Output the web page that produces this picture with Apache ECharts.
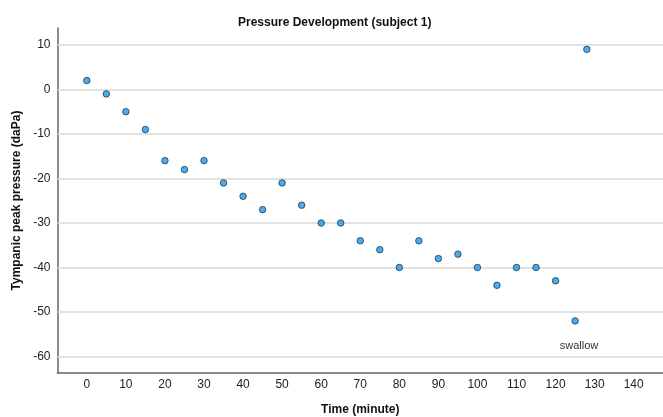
<!DOCTYPE html>
<html>
<head>
<meta charset="utf-8">
<script src="https://cdn.jsdelivr.net/npm/echarts@6/dist/echarts.min.js"></script>
<style>
  html, body { margin: 0; padding: 0; background: #ffffff; }
  #chart { width: 663px; height: 417px; }
</style>
</head>
<body>
<div id="chart"></div>
<script>
// time in minutes and tympanic peak pressure (daPa)
var times = [0, 5, 10, 15, 20, 25, 30, 35, 40, 45, 50, 55, 60, 65, 70, 75, 80, 85, 90, 95, 100, 105, 110, 115, 120, 125, 128];
var pressures = [2, -1, -5, -9, -16, -18, -16, -21, -24, -27, -21, -26, -30, -30, -34, -36, -40, -34, -38, -37, -40, -44, -40, -40, -43, -52, 9];
var xTicks = [0, 10, 20, 30, 40, 50, 60, 70, 80, 90, 100, 110, 120, 130, 140];
var yTicks = [10, 0, -10, -20, -30, -40, -50, -60];
var swallowNote = { x: 126, y: -57.6, text: 'swallow' };

var myChart;
var option;

window.onload = function () {
    myChart = echarts.init(document.getElementById('chart'));

    var points = [];
    for (var i = 0; i < times.length; i++) {
        points.push([times[i], pressures[i]]);
    }

    // horizontal gridlines at the y tick values
    var gridLines = yTicks.map(function (v) {
        return { yAxis: v };
    });

    option = {
        backgroundColor: '#ffffff',
        animation: false,
        textStyle: { fontFamily: 'Liberation Sans, Arial, sans-serif' },
        title: {
            text: 'Pressure Development (subject 1)',
            left: 233,
            top: 12,
            textStyle: { fontSize: 12, fontWeight: 'bold', color: '#111' }
        },
        grid: { left: 57.5, right: 0, top: 28, bottom: 44, containLabel: false, outerBoundsMode: 'none' },
        xAxis: {
            type: 'value',
            min: -7.5,
            max: 147.5,
            name: 'Time (minute)',
            nameLocation: 'middle',
            nameGap: 31,
            nameTextStyle: { fontSize: 12, fontWeight: 'bold', color: '#111' },
            axisLine: { show: true, onZero: false, lineStyle: { color: '#666', width: 1.5 } },
            axisTick: { show: false },
            splitLine: { show: false },
            axisLabel: {
                fontSize: 12,
                color: '#222',
                margin: 6,
                customValues: xTicks
            }
        },
        yAxis: {
            type: 'value',
            min: -63.7,
            max: 13.8,
            name: 'Tympanic peak pressure (daPa)',
            nameLocation: 'middle',
            nameGap: 28,
            nameTextStyle: { fontSize: 12, fontWeight: 'bold', color: '#111' },
            axisLine: { show: true, onZero: false, lineStyle: { color: '#666', width: 1.5 } },
            axisTick: { show: false },
            axisLabel: {
                fontSize: 12,
                color: '#222',
                margin: 7,
                customValues: yTicks
            },
            splitLine: { show: false }
        },
        series: [{
            type: 'scatter',
            data: points,
            symbolSize: 6.5,
            z: 3,
            itemStyle: {
                color: '#2196e8',
                borderColor: '#1c3b57',
                borderWidth: 1
            },
            markLine: {
                silent: true,
                symbol: 'none',
                label: { show: false },
                lineStyle: { color: '#d9d9d9', width: 1.5, type: 'solid' },
                data: gridLines,
                z: 1
            },
            markPoint: {
                symbol: 'circle',
                symbolSize: 0,
                silent: true,
                label: {
                    show: true,
                    formatter: swallowNote.text,
                    fontSize: 11,
                    color: '#333'
                },
                data: [{ coord: [swallowNote.x, swallowNote.y] }]
            }
        }]
    };

    option && myChart.setOption(option);
};
</script>
</body>
</html>
